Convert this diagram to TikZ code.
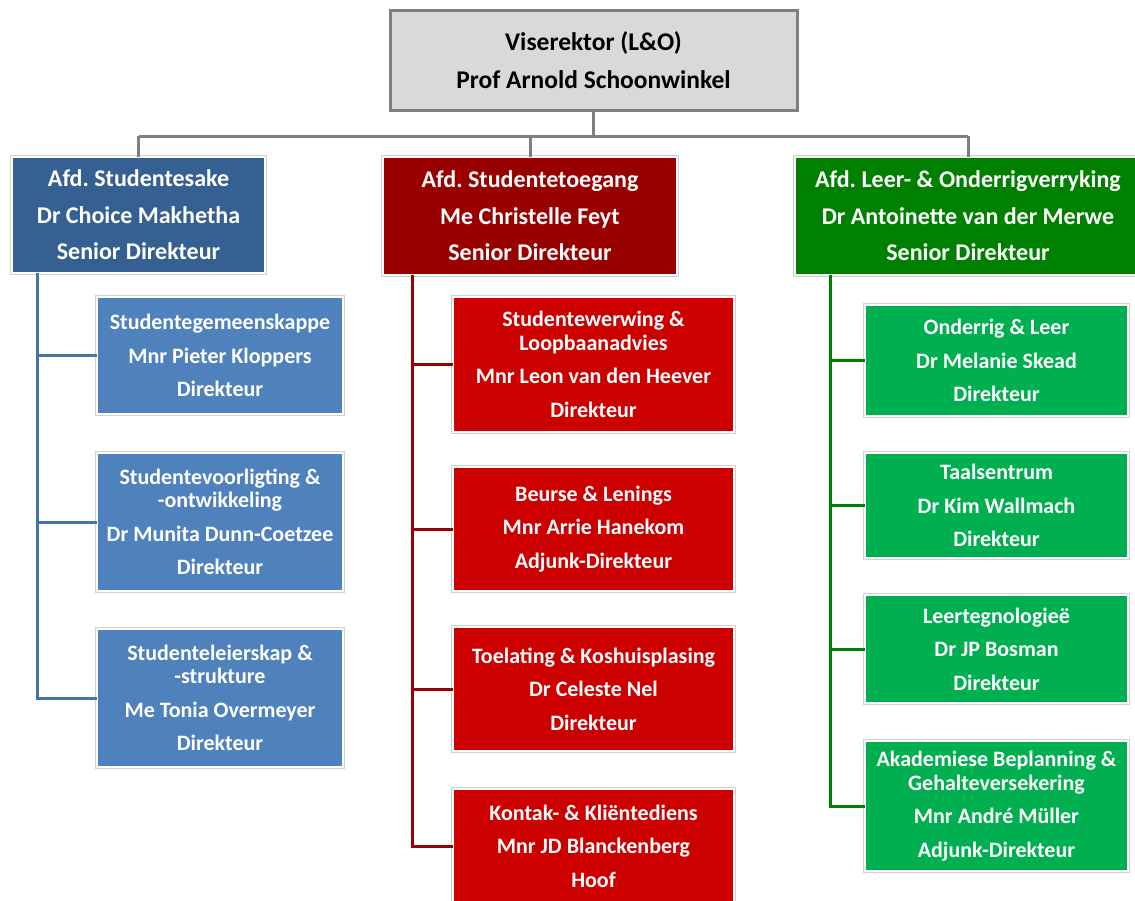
\documentclass[tikz,border=0pt]{standalone}
\usepackage{fontspec}
\setmainfont{Carlito}
\usetikzlibrary{calc}
\frenchspacing
\definecolor{topfill}{HTML}{D9D9D9}
\definecolor{topline}{HTML}{7F7F7F}
\definecolor{bluehdr}{HTML}{366092}
\definecolor{bluebox}{HTML}{4F81BD}
\definecolor{blueline}{HTML}{4672A8}
\definecolor{redhdr}{HTML}{990000}
\definecolor{redbox}{HTML}{CC0000}
\definecolor{redline}{HTML}{990000}
\definecolor{greenhdr}{HTML}{008000}
\definecolor{greenbox}{HTML}{00B050}
\definecolor{greenline}{HTML}{008000}
\begin{document}
\begin{tikzpicture}[x=1pt,y=-1pt,
  orgbox/.style={rectangle, inner sep=0pt, outer sep=0pt, text=white, align=center,
     draw=white, line width=2pt, preaction={draw=black!18, line width=4.5pt}},
  topbox/.style={rectangle, inner sep=0pt, outer sep=0pt, align=center, fill=topfill,
     draw=topline, line width=3pt, font=\fontsize{25.5}{29}\selectfont\bfseries},
  hdr/.style={orgbox, font=\fontsize{24}{26}\selectfont\bfseries},
  child/.style={orgbox, font=\fontsize{22}{23.5}\selectfont\bfseries},
  conn/.style={line width=3pt, draw=topline},
  bconn/.style={line width=3pt, draw=blueline},
  rconn/.style={line width=3pt, draw=redline},
  gconn/.style={line width=3pt, draw=greenline}]
\useasboundingbox (0,0) rectangle (1135,900);
\fill[white] (0,0) rectangle (1135,900);

% top
\node[topbox, minimum width=407, minimum height=100] (T) at (593.5,60)
  {Viserektor (L\&O)\\[9pt]Prof Arnold Schoonwinkel};

% headers
\node[hdr, fill=bluehdr, minimum width=253, minimum height=116] (H1) at (138.5,215)
  {Afd. Studentesake\\[10.5pt]Dr Choice Makhetha\\[10.5pt]Senior Direkteur};
\node[hdr, fill=redhdr, minimum width=294, minimum height=118] (H2) at (530,216)
  {Afd. Studentetoegang\\[10.5pt]Me Christelle Feyt\\[10.5pt]Senior Direkteur};
\node[hdr, fill=greenhdr, minimum width=346, minimum height=118] (H3) at (968,216)
  {Afd. Leer- \& Onderrigverryking\\[10.5pt]Dr Antoinette van der Merwe\\[10.5pt]Senior Direkteur};

% blue children
\node[child, fill=bluebox, minimum width=246, minimum height=117] (B1) at (220,355.5)
  {Studentegemeenskappe\\[10pt]Mnr Pieter Kloppers\\[10pt]Direkteur};
\node[child, fill=bluebox, minimum width=246, minimum height=138] (B2) at (220,522)
  {Studentevoorligting \&\\-ontwikkeling\\[10pt]Dr Munita Dunn-Coetzee\\[10pt]Direkteur};
\node[child, fill=bluebox, minimum width=246, minimum height=138] (B3) at (220,698)
  {Studenteleierskap \&\\-strukture\\[10pt]Me Tonia Overmeyer\\[10pt]Direkteur};

% red children
\node[child, fill=redbox, minimum width=281, minimum height=135] (R1) at (593.5,364.5)
  {Studentewerwing \&\\Loopbaanadvies\\[10pt]Mnr Leon van den Heever\\[10pt]Direkteur};
\node[child, fill=redbox, minimum width=281, minimum height=124] (R2) at (593.5,529)
  {Beurse \& Lenings\\[10pt]Mnr Arrie Hanekom\\[10pt]Adjunk-Direkteur};
\node[child, fill=redbox, minimum width=281, minimum height=124] (R3) at (593.5,689)
  {Toelating \& Koshuisplasing\\[10pt]Dr Celeste Nel\\[10pt]Direkteur};
\node[child, fill=redbox, minimum width=281, minimum height=114] (R4) at (593.5,846)
  {Kontak- \& Kliëntediens\\[10pt]Mnr JD Blanckenberg\\[10pt]Hoof};

% green children
\node[child, fill=greenbox, minimum width=263, minimum height=111] (G1) at (996.5,360.5)
  {Onderrig \& Leer\\[10pt]Dr Melanie Skead\\[10pt]Direkteur};
\node[child, fill=greenbox, minimum width=263, minimum height=105] (G2) at (996.5,505.5)
  {Taalsentrum\\[10pt]Dr Kim Wallmach\\[10pt]Direkteur};
\node[child, fill=greenbox, minimum width=263, minimum height=108] (G3) at (996.5,649)
  {Leertegnologieë\\[10pt]Dr JP Bosman\\[10pt]Direkteur};
\node[child, fill=greenbox, minimum width=263, minimum height=130] (G4) at (996.5,806)
  {Akademiese Beplanning \&\\Gehalteversekering\\[10pt]Mnr André Müller\\[10pt]Adjunk-Direkteur};

% top connectors
\coordinate (bar) at ($(T.south)+(0,26)$);
\draw[conn] (T.south) -- (bar);
\draw[conn] (bar -| H1.north) -- (bar -| H3.north);
\draw[conn] (bar -| H1.north) -- (H1.north);
\draw[conn] (bar -| H2.north) -- (H2.north);
\draw[conn] (bar -| H3.north) -- (H3.north);

% blue spine
\coordinate (s1) at ($(H1.south west)+(25,0)$);
\draw[bconn] (s1) |- (B3.west);
\draw[bconn] (s1 |- B1.west) -- (B1.west);
\draw[bconn] (s1 |- B2.west) -- (B2.west);

% red spine
\coordinate (s2) at ($(H2.south west)+(29,0)$);
\draw[rconn] (s2) |- (R4.west);
\draw[rconn] (s2 |- R1.west) -- (R1.west);
\draw[rconn] (s2 |- R2.west) -- (R2.west);
\draw[rconn] (s2 |- R3.west) -- (R3.west);

% green spine
\coordinate (s3) at ($(H3.south west)+(35,0)$);
\draw[gconn] (s3) |- (G4.west);
\draw[gconn] (s3 |- G1.west) -- (G1.west);
\draw[gconn] (s3 |- G2.west) -- (G2.west);
\draw[gconn] (s3 |- G3.west) -- (G3.west);
\end{tikzpicture}
\end{document}
